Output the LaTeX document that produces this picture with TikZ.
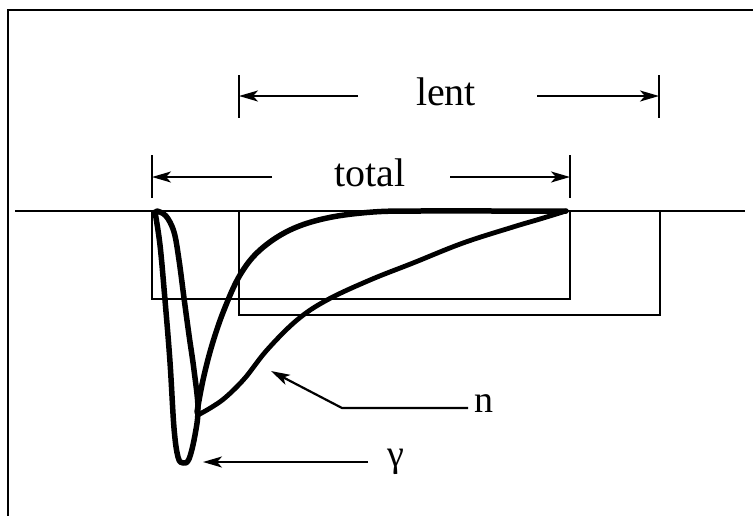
\documentclass[tikz,border=0pt]{standalone}
\usepackage{fontspec}
\setmainfont{Liberation Serif}
\usetikzlibrary{arrows.meta}
\begin{document}
\begin{tikzpicture}[x=1pt,y=-1pt,
  thinline/.style={line width=2pt},
  curve/.style={line width=5.5pt,line join=round,line cap=round},
  dimarrow/.style={line width=2.2pt,-{Stealth[length=19pt,width=11pt,inset=5pt]}},
  tick/.style={line width=2pt},
  lbl/.style={font=\fontsize{40}{42}\selectfont,inner sep=0pt}]
\useasboundingbox (0,0) rectangle (753,515);
% frame
\draw[line width=2.6pt] (8,516) -- (8,10) -- (754,10);
% baseline
\draw[thinline] (15,211) -- (745,211);
% boxes
\draw[thinline] (152,211) -- (152,299) -- (570,299) -- (570,211);
\draw[thinline] (239,211) -- (239,315) -- (660,315) -- (660,211);
% lent dimension
\coordinate (lentL) at (239,96);
\coordinate (lentR) at (659,96);
\draw[tick] (239,75) -- (239,118);
\draw[tick] (659,75) -- (659,118);
\node[lbl] (lent) at (446,92) {lent};
\coordinate (lentLt) at (358,96);
\coordinate (lentRt) at (537,96);
\draw[dimarrow] (lentLt) -- (lentL);
\draw[dimarrow] (lentRt) -- (lentR);
% total dimension
\coordinate (totL) at (152,177);
\coordinate (totR) at (570,177);
\draw[tick] (152,155) -- (152,198);
\draw[tick] (570,155) -- (570,198);
\node[lbl] (total) at (370,173) {total};
\coordinate (totLt) at (272,177);
\coordinate (totRt) at (450,177);
\draw[dimarrow] (totLt) -- (totL);
\draw[dimarrow] (totRt) -- (totR);
% gamma curve
\draw[curve] plot[smooth,tension=0.6] coordinates {
  (155,212) (160,245) (165,300) (170,362) (174,428) (178,457) (183,463)
  (189,459) (195,435) (198,408) (194,370) (189,335) (184,298) (179,260)
  (174,232) (166,216) (157,211)};
% curve A
\draw[curve] plot[smooth,tension=0.6] coordinates {
  (197,412) (203,380) (212,345) (224,310) (240,275) (260,250) (290,230)
  (327,218) (373,212) (420,211) (500,211) (566,211)};
% curve n
\draw[curve,line width=4.8pt] plot[smooth,tension=0.6] coordinates {
  (198,415) (212,407) (226,397) (245,378) (267,350) (297,320) (327,300)
  (370,280) (413,263) (463,243) (513,227) (540,219) (566,211)};
% n label
\node[lbl,font=\fontsize{38}{40}\selectfont] (nl) at (484,404) {n};
\coordinate (ntail) at (468,408);
\coordinate (nbend) at (342,408);
\coordinate (ntip) at (271,371);
\draw[dimarrow] (ntail) -- (nbend) -- (ntip);
% gamma label
\node[lbl,font=\fontsize{38}{40}\selectfont] (gl) at (396,462) {γ};
\coordinate (gtail) at (368,462);
\coordinate (gtip) at (203,462);
\draw[dimarrow] (gtail) -- (gtip);
\end{tikzpicture}
\end{document}
